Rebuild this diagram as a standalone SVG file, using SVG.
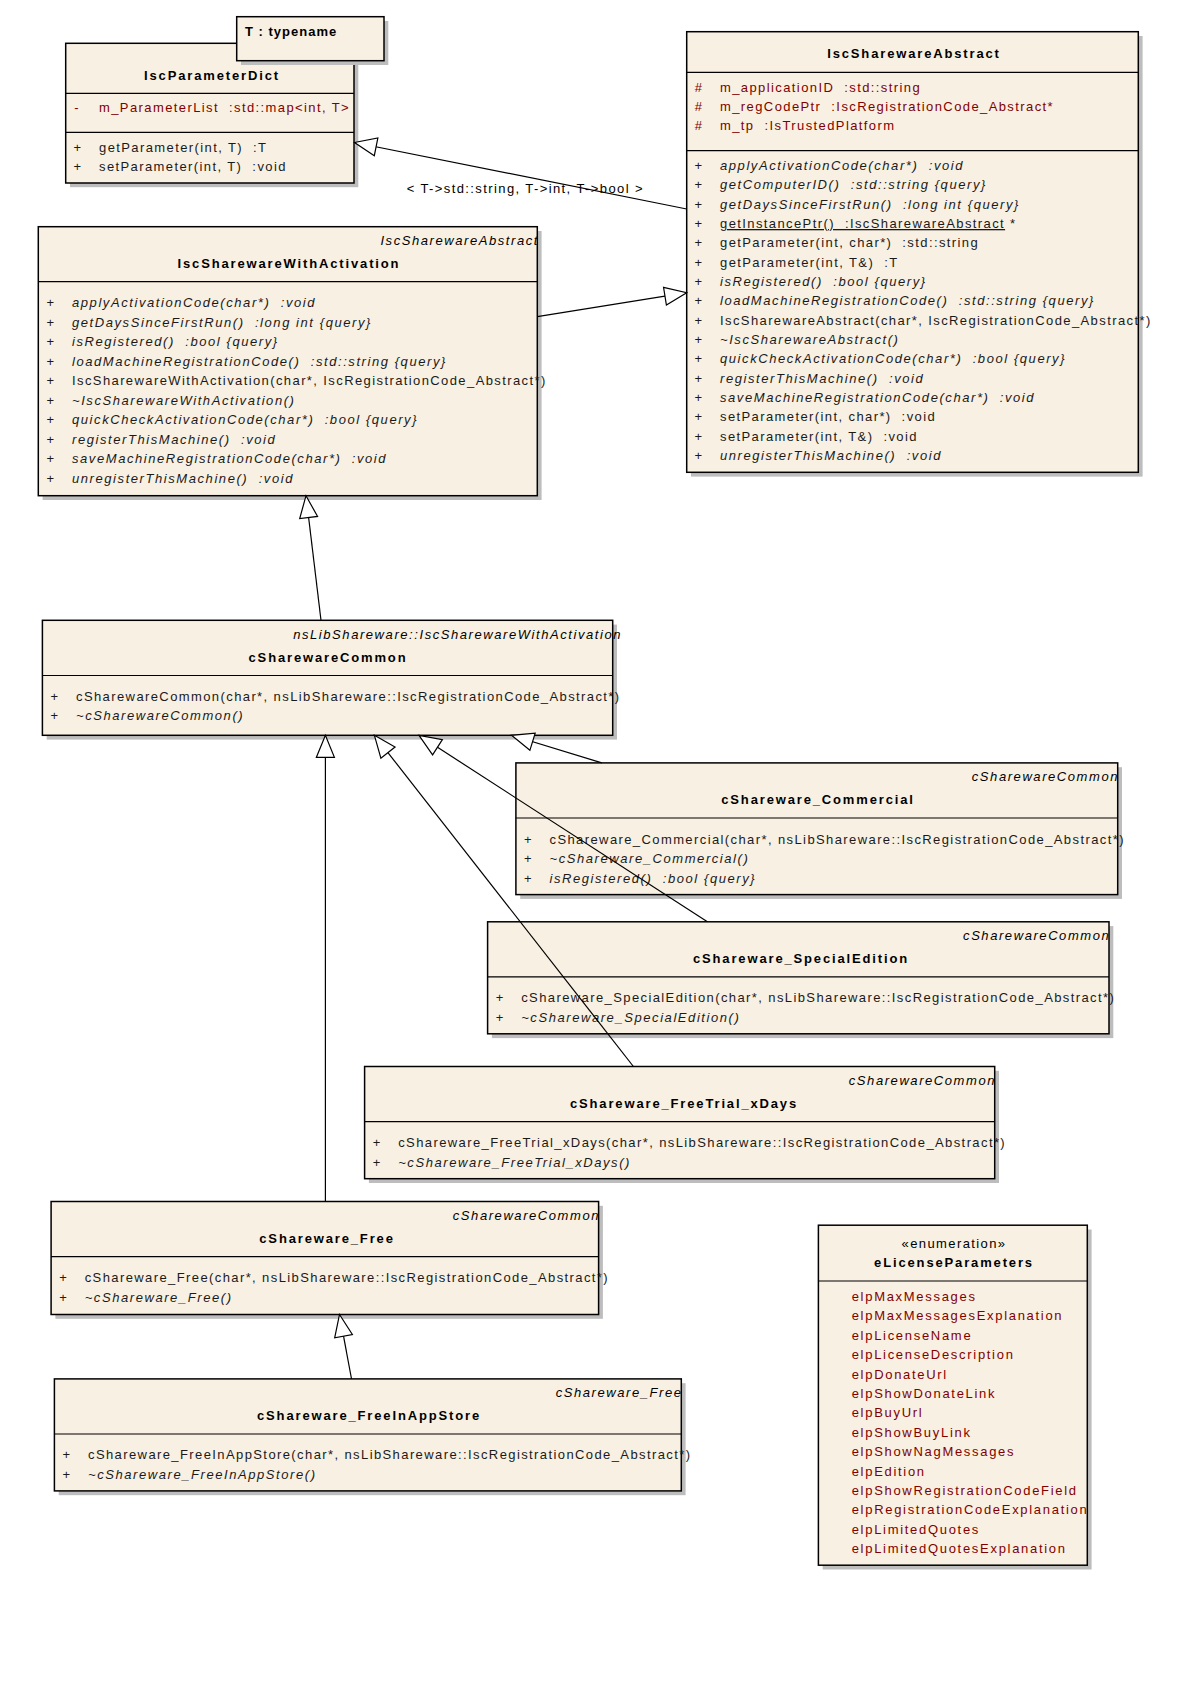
<svg xmlns="http://www.w3.org/2000/svg" width="1195" height="1706" viewBox="0 0 1195 1706">
<style>
.bg{fill:#fff}
.box{fill:#F8F0E2;stroke:#000;stroke-width:1.5}
.sh{fill:#BDBDBD}
.sep{stroke:#000;stroke-width:1.2}
text{font-family:"Liberation Sans",Arial,sans-serif;font-size:13px;letter-spacing:1.4px;fill:#1a1a1a;white-space:pre}
.ti{font-weight:bold;fill:#000;text-anchor:middle;letter-spacing:1.85px}
.pa{font-style:italic;text-anchor:end;fill:#000;letter-spacing:1.57px}
.it{font-style:italic;letter-spacing:1.57px}
.at{fill:#800000}
.en{fill:#800000;letter-spacing:1.7px}
.sy{text-anchor:middle}
.ce{text-anchor:middle;fill:#000}
.con{stroke:#000;stroke-width:1.2;fill:none;marker-end:url(#gen)}
</style>
<defs>
<marker id="gen" markerUnits="userSpaceOnUse" markerWidth="26" markerHeight="22" refX="22" refY="9" orient="auto" overflow="visible">
<path d="M0,0 L22,9 L0,18 Z" fill="#fff" stroke="#000" stroke-width="1.2"/>
</marker>
</defs>
<rect class="bg" x="0" y="0" width="1195" height="1706"/>

<g id="IscParameterDict">
<rect class="sh" x="70" y="47.5" width="288.3" height="139.7"/>
<rect class="box" x="65.7" y="43.3" width="288.3" height="139.7"/>
<line class="sep" x1="65.7" y1="93.3" x2="354" y2="93.3"/>
<line class="sep" x1="65.7" y1="132.3" x2="354" y2="132.3"/>
<text class="ti" x="212" y="80">IscParameterDict</text>
<text class="sy at" x="77" y="111.7">-</text>
<text class="at" x="99" y="111.7">m_ParameterList  :std::map&lt;int, T&gt;</text>
<text class="sy" x="78" y="151.7">+</text>
<text x="99" y="151.7">getParameter(int, T)  :T</text>
<text class="sy" x="78" y="171.2">+</text>
<text x="99" y="171.2">setParameter(int, T)  :void</text>
<rect class="sh" x="241" y="21" width="147.3" height="44"/>
<rect class="box" x="236.7" y="16.7" width="147.3" height="44"/>
<text x="245" y="36" style="font-weight:bold;fill:#000;letter-spacing:1px">T : typename</text>
</g>

<g id="IscSharewareAbstract">
<rect class="sh" x="691" y="36" width="451.6" height="440.6"/>
<rect class="box" x="686.7" y="31.7" width="451.6" height="440.6"/>
<line class="sep" x1="686.7" y1="72.3" x2="1138.3" y2="72.3"/>
<line class="sep" x1="686.7" y1="150.7" x2="1138.3" y2="150.7"/>
<text class="ti" x="914" y="58.3">IscSharewareAbstract</text>
<text class="sy at" x="699" y="91.7">#</text><text class="at" x="720" y="91.7">m_applicationID  :std::string</text>
<text class="sy at" x="699" y="111">#</text><text class="at" x="720" y="111">m_regCodePtr  :IscRegistrationCode_Abstract*</text>
<text class="sy at" x="699" y="130.4">#</text><text class="at" x="720" y="130.4">m_tp  :IsTrustedPlatform</text>
<text class="sy" x="699" y="170">+</text><text class="it" x="720" y="170">applyActivationCode(char*)  :void</text>
<text class="sy" x="699" y="189.3">+</text><text class="it" x="720" y="189.3">getComputerID()  :std::string {query}</text>
<text class="sy" x="699" y="208.7">+</text><text class="it" x="720" y="208.7">getDaysSinceFirstRun()  :long int {query}</text>
<text class="sy" x="699" y="228">+</text><text x="720" y="228"><tspan text-decoration="underline">getInstancePtr()  :IscSharewareAbstract</tspan> *</text>
<text class="sy" x="699" y="247.3">+</text><text x="720" y="247.3">getParameter(int, char*)  :std::string</text>
<text class="sy" x="699" y="266.7">+</text><text x="720" y="266.7">getParameter(int, T&amp;)  :T</text>
<text class="sy" x="699" y="286">+</text><text class="it" x="720" y="286">isRegistered()  :bool {query}</text>
<text class="sy" x="699" y="305.3">+</text><text class="it" x="720" y="305.3">loadMachineRegistrationCode()  :std::string {query}</text>
<text class="sy" x="699" y="324.7">+</text><text x="720" y="324.7">IscSharewareAbstract(char*, IscRegistrationCode_Abstract*)</text>
<text class="sy" x="699" y="344">+</text><text class="it" x="720" y="344">~IscSharewareAbstract()</text>
<text class="sy" x="699" y="363.3">+</text><text class="it" x="720" y="363.3">quickCheckActivationCode(char*)  :bool {query}</text>
<text class="sy" x="699" y="382.7">+</text><text class="it" x="720" y="382.7">registerThisMachine()  :void</text>
<text class="sy" x="699" y="402">+</text><text class="it" x="720" y="402">saveMachineRegistrationCode(char*)  :void</text>
<text class="sy" x="699" y="421.3">+</text><text x="720" y="421.3">setParameter(int, char*)  :void</text>
<text class="sy" x="699" y="440.7">+</text><text x="720" y="440.7">setParameter(int, T&amp;)  :void</text>
<text class="sy" x="699" y="460">+</text><text class="it" x="720" y="460">unregisterThisMachine()  :void</text>
</g>

<g id="IscSharewareWithActivation">
<rect class="sh" x="42.6" y="231" width="499" height="269"/>
<rect class="box" x="38.3" y="226.7" width="499" height="269"/>
<line class="sep" x1="38.3" y1="281.7" x2="537.3" y2="281.7"/>
<text class="pa" x="539" y="245">IscSharewareAbstract</text>
<text class="ti" x="289" y="268.3">IscSharewareWithActivation</text>
<text class="sy" x="51" y="307">+</text><text class="it" x="72" y="307">applyActivationCode(char*)  :void</text>
<text class="sy" x="51" y="326.5">+</text><text class="it" x="72" y="326.5">getDaysSinceFirstRun()  :long int {query}</text>
<text class="sy" x="51" y="346">+</text><text class="it" x="72" y="346">isRegistered()  :bool {query}</text>
<text class="sy" x="51" y="365.5">+</text><text class="it" x="72" y="365.5">loadMachineRegistrationCode()  :std::string {query}</text>
<text class="sy" x="51" y="385">+</text><text x="72" y="385">IscSharewareWithActivation(char*, IscRegistrationCode_Abstract*)</text>
<text class="sy" x="51" y="404.5">+</text><text class="it" x="72" y="404.5">~IscSharewareWithActivation()</text>
<text class="sy" x="51" y="424">+</text><text class="it" x="72" y="424">quickCheckActivationCode(char*)  :bool {query}</text>
<text class="sy" x="51" y="443.5">+</text><text class="it" x="72" y="443.5">registerThisMachine()  :void</text>
<text class="sy" x="51" y="463">+</text><text class="it" x="72" y="463">saveMachineRegistrationCode(char*)  :void</text>
<text class="sy" x="51" y="482.5">+</text><text class="it" x="72" y="482.5">unregisterThisMachine()  :void</text>
</g>

<g id="cSharewareCommon">
<rect class="sh" x="46.7" y="624.6" width="570.3" height="115"/>
<rect class="box" x="42.4" y="620.3" width="570.3" height="115"/>
<line class="sep" x1="42.4" y1="675.5" x2="612.7" y2="675.5"/>
<text class="pa" x="622" y="638.8">nsLibShareware::IscSharewareWithActivation</text>
<text class="ti" x="328" y="661.8">cSharewareCommon</text>
<text class="sy" x="55" y="700.5">+</text><text x="76" y="700.5">cSharewareCommon(char*, nsLibShareware::IscRegistrationCode_Abstract*)</text>
<text class="sy" x="55" y="720">+</text><text class="it" x="76" y="720">~cSharewareCommon()</text>
</g>

<g id="cShareware_Commercial">
<rect class="sh" x="520.2" y="767.2" width="601.8" height="131.7"/>
<rect class="box" x="515.9" y="762.9" width="601.8" height="131.7"/>
<line class="sep" x1="515.9" y1="818" x2="1117.7" y2="818"/>
<text class="pa" x="1119" y="781.4">cSharewareCommon</text>
<text class="ti" x="818" y="804.4">cShareware_Commercial</text>
<text class="sy" x="528.5" y="843.5">+</text><text x="549.5" y="843.5">cShareware_Commercial(char*, nsLibShareware::IscRegistrationCode_Abstract*)</text>
<text class="sy" x="528.5" y="863">+</text><text class="it" x="549.5" y="863">~cShareware_Commercial()</text>
<text class="sy" x="528.5" y="882.5">+</text><text class="it" x="549.5" y="882.5">isRegistered()  :bool {query}</text>
</g>

<g id="cShareware_SpecialEdition">
<rect class="sh" x="491.9" y="926.1" width="621.4" height="112"/>
<rect class="box" x="487.6" y="921.8" width="621.4" height="112"/>
<line class="sep" x1="487.6" y1="976.9" x2="1109" y2="976.9"/>
<text class="pa" x="1110.3" y="940.3">cSharewareCommon</text>
<text class="ti" x="801" y="963.3">cShareware_SpecialEdition</text>
<text class="sy" x="500.2" y="1002.3">+</text><text x="521.2" y="1002.3">cShareware_SpecialEdition(char*, nsLibShareware::IscRegistrationCode_Abstract*)</text>
<text class="sy" x="500.2" y="1021.8">+</text><text class="it" x="521.2" y="1021.8">~cShareware_SpecialEdition()</text>
</g>

<g id="cShareware_FreeTrial_xDays">
<rect class="sh" x="368.9" y="1070.8" width="630.1" height="112.2"/>
<rect class="box" x="364.6" y="1066.5" width="630.1" height="112.2"/>
<line class="sep" x1="364.6" y1="1121.6" x2="994.7" y2="1121.6"/>
<text class="pa" x="996" y="1085">cSharewareCommon</text>
<text class="ti" x="684" y="1108">cShareware_FreeTrial_xDays</text>
<text class="sy" x="377.2" y="1147">+</text><text x="398.2" y="1147">cShareware_FreeTrial_xDays(char*, nsLibShareware::IscRegistrationCode_Abstract*)</text>
<text class="sy" x="377.2" y="1166.5">+</text><text class="it" x="398.2" y="1166.5">~cShareware_FreeTrial_xDays()</text>
</g>

<g id="cShareware_Free">
<rect class="sh" x="55.4" y="1205.8" width="547.5" height="113"/>
<rect class="box" x="51.1" y="1201.5" width="547.5" height="113"/>
<line class="sep" x1="51.1" y1="1256.6" x2="598.6" y2="1256.6"/>
<text class="pa" x="600" y="1220">cSharewareCommon</text>
<text class="ti" x="327" y="1243">cShareware_Free</text>
<text class="sy" x="63.7" y="1282">+</text><text x="84.7" y="1282">cShareware_Free(char*, nsLibShareware::IscRegistrationCode_Abstract*)</text>
<text class="sy" x="63.7" y="1301.5">+</text><text class="it" x="84.7" y="1301.5">~cShareware_Free()</text>
</g>

<g id="cShareware_FreeInAppStore">
<rect class="sh" x="58.7" y="1383.2" width="626.9" height="112"/>
<rect class="box" x="54.4" y="1378.9" width="626.9" height="112"/>
<line class="sep" x1="54.4" y1="1434" x2="681.3" y2="1434"/>
<text class="pa" x="682.6" y="1397.4">cShareware_Free</text>
<text class="ti" x="369" y="1420.4">cShareware_FreeInAppStore</text>
<text class="sy" x="67" y="1459.4">+</text><text x="88" y="1459.4">cShareware_FreeInAppStore(char*, nsLibShareware::IscRegistrationCode_Abstract*)</text>
<text class="sy" x="67" y="1478.9">+</text><text class="it" x="88" y="1478.9">~cShareware_FreeInAppStore()</text>
</g>

<g id="eLicenseParameters">
<rect class="sh" x="822.7" y="1229.5" width="268.9" height="340"/>
<rect class="box" x="818.4" y="1225.2" width="268.9" height="340"/>
<line class="sep" x1="818.4" y1="1281" x2="1087.3" y2="1281"/>
<text class="ce" x="954" y="1247.7">«enumeration»</text>
<text class="ti" x="954" y="1266.7">eLicenseParameters</text>
<text class="en" x="851.7" y="1301">elpMaxMessages</text>
<text class="en" x="851.7" y="1320.4">elpMaxMessagesExplanation</text>
<text class="en" x="851.7" y="1339.8">elpLicenseName</text>
<text class="en" x="851.7" y="1359.2">elpLicenseDescription</text>
<text class="en" x="851.7" y="1378.6">elpDonateUrl</text>
<text class="en" x="851.7" y="1398">elpShowDonateLink</text>
<text class="en" x="851.7" y="1417.4">elpBuyUrl</text>
<text class="en" x="851.7" y="1436.8">elpShowBuyLink</text>
<text class="en" x="851.7" y="1456.2">elpShowNagMessages</text>
<text class="en" x="851.7" y="1475.6">elpEdition</text>
<text class="en" x="851.7" y="1495">elpShowRegistrationCodeField</text>
<text class="en" x="851.7" y="1514.4">elpRegistrationCodeExplanation</text>
<text class="en" x="851.7" y="1533.8">elpLimitedQuotes</text>
<text class="en" x="851.7" y="1553.2">elpLimitedQuotesExplanation</text>
</g>

<g id="connectors">
<line class="con" x1="686.7" y1="209" x2="354.5" y2="142.5"/>
<text x="406.7" y="193.3" style="fill:#000">&lt; T-&gt;std::string, T-&gt;int, T-&gt;bool &gt;</text>
<line class="con" x1="537.3" y1="316.7" x2="686.7" y2="292.7"/>
<line class="con" x1="321" y1="620.3" x2="306" y2="495.7"/>
<line class="con" x1="325.4" y1="1201.5" x2="325.4" y2="735.3"/>
<line class="con" x1="633.4" y1="1066.5" x2="374.4" y2="735.3"/>
<line class="con" x1="707.4" y1="921.8" x2="419" y2="735.3"/>
<line class="con" x1="601.8" y1="762.9" x2="511.5" y2="735.3"/>
<line class="con" x1="351.5" y1="1378.9" x2="339.5" y2="1314.5"/>
</g>
</svg>
